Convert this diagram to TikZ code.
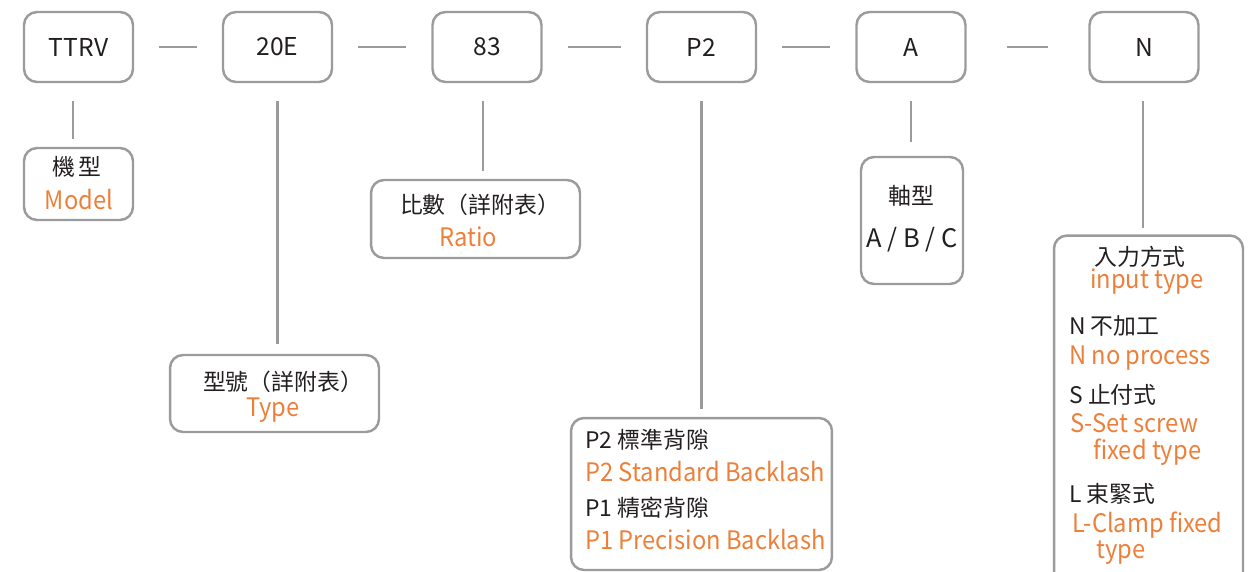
\documentclass[tikz,border=0pt]{standalone}
\usepackage{fontspec}
\setmainfont{Noto Sans CJK TC}
\newfontfamily\narrowfont[FakeStretch=0.93]{Noto Sans CJK TC}
\usepackage{xcolor}
\usetikzlibrary{positioning}
\definecolor{linegray}{RGB}{155,155,158}
\definecolor{txtorange}{RGB}{236,128,58}
\definecolor{txtdark}{RGB}{35,31,32}
\begin{document}
\begin{tikzpicture}[
    x=0.02cm, y=-0.02cm,
    font=\fontsize{13}{15}\selectfont, text=txtdark,
    box/.style={draw=linegray, line width=1.4pt, rounded corners=0.26cm, inner sep=0pt},
    code/.style={box, minimum width=2.18cm, minimum height=1.4cm, font=\fontsize{14}{16}\selectfont},
    link/.style={draw=linegray, line width=1.4pt},
    en/.style={text=txtorange, font=\narrowfont\fontsize{14.5}{16}\selectfont},
    zh/.style={text=txtdark},
    lft/.style={anchor=west, inner sep=0pt},
]
\clip (0,0) rectangle (1249,572);

% top row: code boxes
\node[code] (ttrv) at (78.5, 47) {TTRV};
\node[code] (e20)  at (277.5, 47) {20E};
\node[code] (r83)  at (487, 47) {83};
\node[code] (p2)   at (701.5, 47) {P2};
\node[code] (shaft) at (911, 47) {A};
\node[code] (inp)  at (1144, 47) {N};

\draw[link, shorten <=0.5cm, shorten >=0.5cm] (ttrv) -- (e20);
\draw[link, shorten <=0.5cm, shorten >=0.5cm] (e20) -- (r83);
\draw[link, shorten <=0.5cm, shorten >=0.5cm] (r83) -- (p2);
\draw[link, shorten <=0.5cm, shorten >=0.5cm] (p2) -- (shaft);
\draw[link, shorten <=0.8cm, shorten >=0.8cm] (shaft) -- (inp);

% description boxes
\node[box, minimum width=2.18cm, minimum height=1.44cm] (model) at (78.5, 184) {};
\node[box, minimum width=4.18cm, minimum height=1.54cm] (type) at (274.5, 393.5) {};
\node[box, minimum width=4.18cm, minimum height=1.56cm] (ratio) at (475.5, 219) {};
\node[box, minimum width=2.04cm, minimum height=2.54cm] (axis) at (912, 220.5) {};
\node[box, minimum width=5.22cm, minimum height=3.04cm] (back) at (701.5, 494) {};
\node[box, minimum width=3.78cm, minimum height=7.7cm] (ntype) at (1148.5, 428) {};

\draw[link, shorten <=0.36cm, shorten >=0.16cm] ([xshift=-0.11cm]ttrv.south) -- ([xshift=-0.11cm]ttrv.south |- model.north);
\draw[link, shorten <=0.36cm, shorten >=0.2cm] (e20.south) -- (e20.south |- type.north);
\draw[link, shorten <=0.36cm, shorten >=0.16cm] ([xshift=-0.08cm]r83.south) -- ([xshift=-0.08cm]r83.south |- ratio.north);
\draw[link, shorten <=0.36cm, shorten >=0.16cm] (p2.south) -- (p2.south |- back.north);
\draw[link, shorten <=0.36cm, shorten >=0.28cm] (shaft.south) -- (shaft.south |- axis.north);
\draw[link, shorten <=0.36cm, shorten >=0.12cm] ([xshift=-0.02cm]inp.south) -- ([xshift=-0.02cm]inp.south |- ntype.north);

% texts
\node[zh] (modelzh) at (77, 167) {機\,型};
\node[en] (modelen) at (79, 200) {Model};
\node[zh] (typezh) at (283, 382) {型號（詳附表）};
\node[en] (typeen) at (273, 410) {Type};
\node[zh] (ratiozh) at (480, 205) {比數（詳附表）};
\node[en] (ratioen) at (468, 237) {Ratio};
\node[zh] (axiszh) at (911, 196) {軸型};
\node[zh, font=\fontsize{14.5}{16}\selectfont] (axisabc) at (912, 240) {A / B / C};

\node[zh, lft] (p2zh) at (585, 440) {P2 標準背隙};
\node[en, lft] (p2en) at (585, 472) {P2 Standard Backlash};
\node[zh, lft] (p1zh) at (585, 508) {P1 精密背隙};
\node[en, lft] (p1en) at (585, 540) {P1 Precision Backlash};

\node[zh] (ntypezh) at (1140, 257) {入力方式};
\node[en] (ntypeen) at (1147, 282) {input type};
\node[zh, lft] (nzh) at (1069, 326) {N 不加工};
\node[en, lft] (nen) at (1069, 358) {N no process};
\node[zh, lft] (szh) at (1069, 395) {S 止付式};
\node[en, lft] (sen) at (1070, 423) {S-Set screw};
\node[en, lft] (sen2) at (1093, 452) {fixed type};
\node[zh, lft] (lzh) at (1069, 494) {L 束緊式};
\node[en, lft] (len) at (1072, 525) {L-Clamp fixed};
\node[en, lft] (len2) at (1096, 553) {type};

\end{tikzpicture}
\end{document}
